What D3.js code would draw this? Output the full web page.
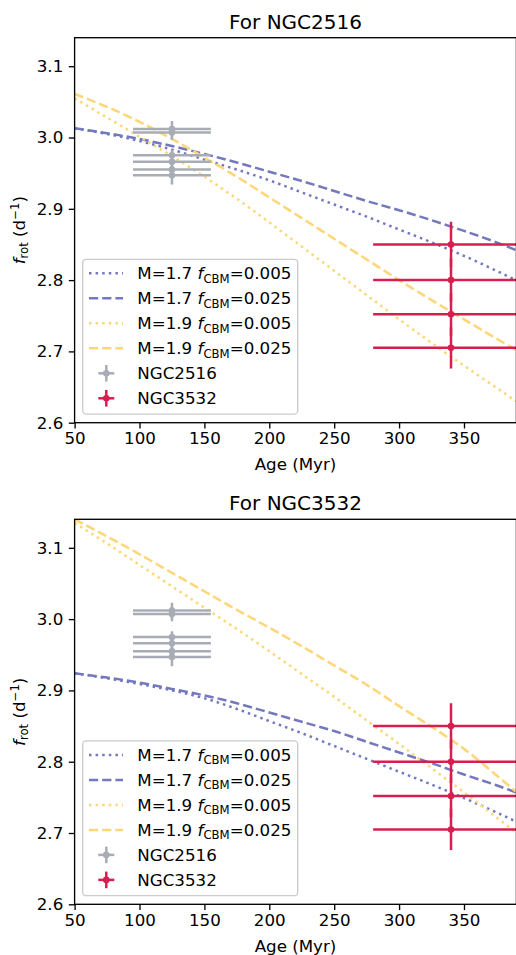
<!DOCTYPE html>
<html><head><meta charset="utf-8">
<script src="https://cdn.jsdelivr.net/npm/d3@7"></script>
<style>
body{margin:0;background:#fff}
svg{display:block}
text{font-family:"DejaVu Sans",sans-serif;fill:#000}
</style>
</head><body>
<script>
// ---------- data ----------
const ages = [50,75,100,125,150,175,200,225,250,275,300,325,350,375,390];

// Panel "For NGC2516"
const top_m17_f005 = [3.013,3.005,2.995,2.983,2.969,2.955,2.940,2.923,2.906,2.889,2.871,2.853,2.834,2.813,2.800];
const top_m17_f025 = [3.013,3.006,2.998,2.988,2.977,2.965,2.952,2.939,2.925,2.911,2.898,2.884,2.869,2.853,2.842];
const top_m19_f005 = [3.055,3.028,3.001,2.974,2.945,2.914,2.881,2.847,2.813,2.779,2.745,2.712,2.680,2.649,2.630];
const top_m19_f025 = [3.061,3.043,3.022,2.998,2.972,2.945,2.916,2.887,2.858,2.829,2.800,2.772,2.745,2.718,2.702];

// Panel "For NGC3532"
const bot_m17_f005 = [2.924,2.917,2.909,2.900,2.889,2.874,2.857,2.840,2.822,2.804,2.786,2.768,2.749,2.729,2.716];
const bot_m17_f025 = [2.924,2.918,2.911,2.902,2.893,2.882,2.869,2.856,2.843,2.828,2.813,2.798,2.782,2.767,2.757];
const bot_m19_f005 = [3.135,3.106,3.076,3.046,3.016,2.986,2.955,2.923,2.891,2.858,2.825,2.791,2.757,2.722,2.701];
const bot_m19_f025 = [3.140,3.116,3.091,3.065,3.039,3.013,2.988,2.962,2.935,2.908,2.878,2.849,2.818,2.781,2.758];

// Observations
const ngc2516_age = 125, ngc2516_ageErr = 30;
const ngc2516_f = [3.012,3.007,2.975,2.966,2.955,2.947];
const ngc2516_fErr = [0.011,0.010,0.008,0.010,0.012,0.013];
const ngc3532_age = 340, ngc3532_ageErr = 60;
const ngc3532_f = [2.850,2.800,2.752,2.705];
const ngc3532_fErr = [0.032,0.030,0.030,0.029];

const xTicks = [50,100,150,200,250,300,350];
const yTicks = [2.6,2.7,2.8,2.9,3.0,3.1];
const modelLabels = [["M=1.7 ","0.005"],["M=1.7 ","0.025"],["M=1.9 ","0.005"],["M=1.9 ","0.025"]];
const obsLabels = ["NGC2516","NGC3532"];
const titles = ["For NGC2516","For NGC3532"];

// ---------- style ----------
const W=516,H=955,FS=16.7;
const BLUE="#7378bf", YELLOW="#fdd676", GRAY="#a8acb5", RED="#d61f4f";
const DOT="2.5,4.1", DASH="9.2,4";
const styles = [
  {color:BLUE, dash:DOT},{color:BLUE, dash:DASH},
  {color:YELLOW, dash:DOT},{color:YELLOW, dash:DASH}
];

const svg = d3.select("body").append("svg").attr("width",W).attr("height",H);

function drawPanel(idx, top, bottom, series){
  const left=74.6, right=516.4;
  const x = d3.scaleLinear().domain([50,390.3]).range([left,right-0.1]);
  const y = d3.scaleLinear().domain([2.6,3.14]).range([bottom,top]);
  const g = svg.append("g");
  const cid = "clip"+idx;
  g.append("clipPath").attr("id",cid).append("rect")
    .attr("x",left).attr("y",top).attr("width",right-left).attr("height",bottom-top);
  const plot = g.append("g").attr("clip-path",`url(#${cid})`);

  const line = d3.line().curve(d3.curveMonotoneX).x((d,i)=>x(ages[i])).y(d=>y(d));
  series.forEach((s,i)=>{
    plot.append("path").attr("d",line(s)).attr("fill","none")
      .attr("stroke",styles[i].color).attr("stroke-width",2.5)
      .attr("stroke-dasharray",styles[i].dash);
  });

  function errorbars(age, ageErr, vals, errs, color){
    vals.forEach((v,i)=>{
      plot.append("line").attr("x1",x(age-ageErr)).attr("x2",x(age+ageErr))
        .attr("y1",y(v)).attr("y2",y(v)).attr("stroke",color).attr("stroke-width",2.5);
      plot.append("line").attr("x1",x(age)).attr("x2",x(age))
        .attr("y1",y(v-errs[i])).attr("y2",y(v+errs[i])).attr("stroke",color).attr("stroke-width",2.5);
    });
    vals.forEach(v=>{
      plot.append("circle").attr("cx",x(age)).attr("cy",y(v)).attr("r",3.3).attr("fill",color);
    });
  }
  errorbars(ngc2516_age, ngc2516_ageErr, ngc2516_f, ngc2516_fErr, GRAY);
  errorbars(ngc3532_age, ngc3532_ageErr, ngc3532_f, ngc3532_fErr, RED);

  // axes
  const xa = g.append("g").attr("transform",`translate(0,${bottom})`)
    .call(d3.axisBottom(x).tickValues(xTicks).tickFormat(d3.format("d")).tickSize(5.8).tickPadding(3.6));
  const ya = g.append("g").attr("transform",`translate(${left},0)`)
    .call(d3.axisLeft(y).tickValues(yTicks).tickFormat(d3.format(".1f")).tickSize(5.8).tickPadding(5.5));
  [xa,ya].forEach(a=>{
    a.select(".domain").remove();
    a.selectAll(".tick line").attr("stroke","#000").attr("stroke-width",1.33);
    a.selectAll(".tick text").attr("font-size",FS).attr("font-family","DejaVu Sans").attr("fill","#000");
  });

  // spines
  g.append("rect").attr("x",left).attr("y",top).attr("width",right-left).attr("height",bottom-top)
    .attr("fill","none").attr("stroke","#000").attr("stroke-width",1.33);

  // title
  const cx=(left+right)/2;
  g.append("text").attr("x",cx).attr("y",top-9.2).attr("text-anchor","middle")
    .attr("font-size",20).text(titles[idx]);
  // x label
  g.append("text").attr("x",cx).attr("y",bottom+47.5).attr("text-anchor","middle")
    .attr("font-size",FS).text("Age (Myr)");
  // y label
  const yl = g.append("text").attr("transform",`translate(25,${(top+bottom)/2}) rotate(-90)`)
    .attr("text-anchor","middle").attr("font-size",FS);
  yl.append("tspan").attr("font-style","italic").text("f");
  yl.append("tspan").attr("font-size",11.7).attr("dy",3).text("rot");
  yl.append("tspan").attr("dy",-3).text(" (d");
  yl.append("tspan").attr("font-size",11.7).attr("dy",-6).text("\u22121");
  yl.append("tspan").attr("dy",6).text(")");

  // legend
  const lg = g.append("g");
  const lTop = bottom-163.4, lBot = bottom-8.6;
  lg.append("rect").attr("x",82.7).attr("y",lTop).attr("width",215).attr("height",lBot-lTop)
    .attr("rx",3.5).attr("fill","#fff").attr("fill-opacity",0.8)
    .attr("stroke","#cccccc").attr("stroke-width",1.33);
  const rowY = i => bottom-24.4-25*(5-i);
  modelLabels.forEach((lab,i)=>{
    const ry=rowY(i);
    lg.append("line").attr("x1",89).attr("x2",123).attr("y1",ry).attr("y2",ry)
      .attr("stroke",styles[i].color).attr("stroke-width",2.5).attr("stroke-dasharray",styles[i].dash);
    const t = lg.append("text").attr("x",137.3).attr("y",ry+6).attr("font-size",FS);
    t.append("tspan").text(lab[0]);
    t.append("tspan").attr("font-style","italic").text("f");
    t.append("tspan").attr("font-size",11.7).attr("dy",3.3).text("CBM");
    t.append("tspan").attr("dy",-3.3).text("="+lab[1]);
  });
  [GRAY,RED].forEach((c,j)=>{
    const ry=rowY(4+j);
    lg.append("line").attr("x1",98.3).attr("x2",114.3).attr("y1",ry).attr("y2",ry).attr("stroke",c).attr("stroke-width",2.5);
    lg.append("line").attr("x1",106.3).attr("x2",106.3).attr("y1",ry-8.3).attr("y2",ry+8.3).attr("stroke",c).attr("stroke-width",2.5);
    lg.append("circle").attr("cx",106.3).attr("cy",ry).attr("r",3.3).attr("fill",c);
    lg.append("text").attr("x",137.3).attr("y",ry+6).attr("font-size",FS).text(obsLabels[j]);
  });
}

drawPanel(0, 37.7, 422.7, [top_m17_f005, top_m17_f025, top_m19_f005, top_m19_f025]);
drawPanel(1, 519.3, 904.3, [bot_m17_f005, bot_m17_f025, bot_m19_f005, bot_m19_f025]);
</script>
</body></html>
